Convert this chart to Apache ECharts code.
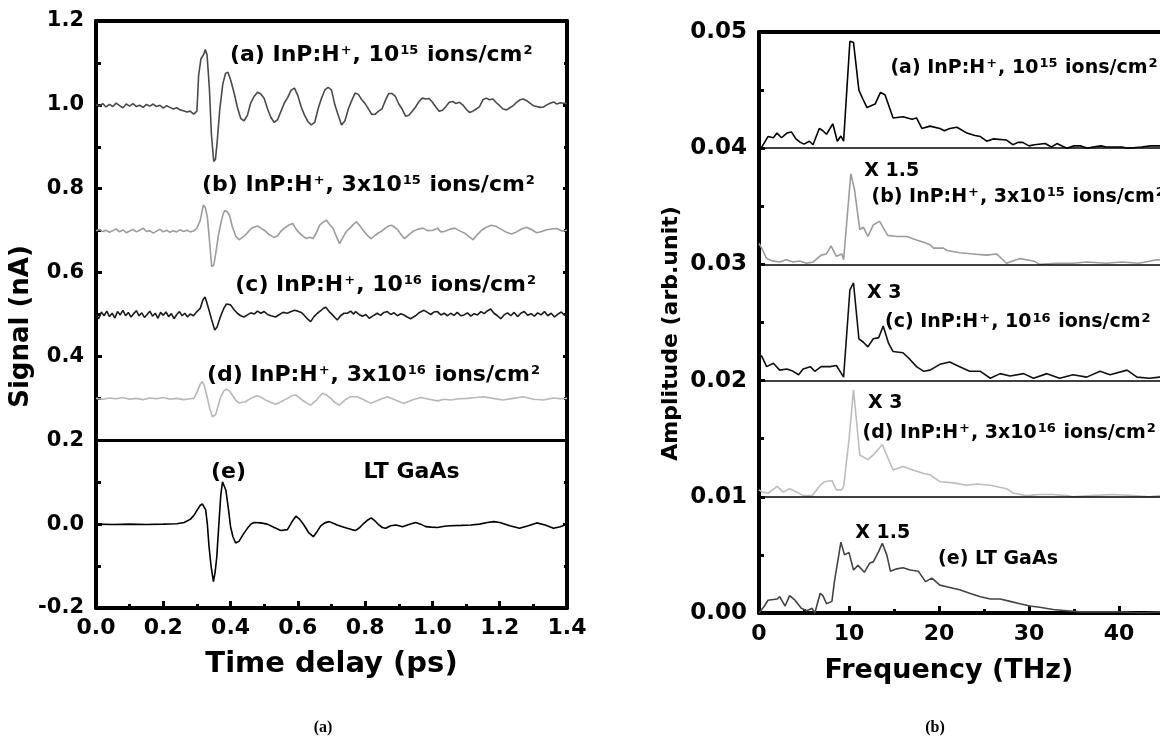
<!DOCTYPE html>
<html><head><meta charset="utf-8">
<script src="https://cdn.jsdelivr.net/npm/echarts@6/dist/echarts.min.js"></script>
<style>html,body{margin:0;padding:0;background:#fff}#c{width:1160px;height:740px}</style>
</head><body><div id="c"></div>
<script>
// ---------- tick labels ----------
const leftXTickLabels = ['0.0','0.2','0.4','0.6','0.8','1.0','1.2','1.4'];
const leftYTickLabels = ['-0.2','0.0','0.2','0.4','0.6','0.8','1.0','1.2'];
const rightXTickLabels = ['0','10','20','30','40','50'];
const rightYTickLabels = ['0.00','0.01','0.02','0.03','0.04','0.05'];

// ---------- (a) time-domain signals [time ps, signal nA] ----------
const sigA = [[0,1.0],[0.01,0.997],[0.02,1.003],[0.03,0.995],[0.04,1.001],[0.05,0.996],[0.06,1.004],[0.07,0.998],[0.08,0.993],[0.09,1.002],[0.10,0.997],[0.11,1.003],[0.12,0.996],[0.13,0.999],[0.14,0.994],[0.15,1.001],[0.16,0.997],[0.17,1.002],[0.18,0.996],[0.19,0.999],[0.20,0.992],[0.21,0.998],[0.22,0.994],[0.23,0.99],[0.24,0.993],[0.25,0.988],[0.26,0.986],[0.27,0.983],[0.28,0.985],[0.29,0.978],[0.30,0.985],[0.305,1.07],[0.312,1.11],[0.32,1.12],[0.325,1.132],[0.33,1.12],[0.337,1.04],[0.343,0.93],[0.35,0.865],[0.355,0.87],[0.36,0.91],[0.368,0.99],[0.377,1.05],[0.385,1.075],[0.392,1.078],[0.40,1.06],[0.41,1.03],[0.42,0.995],[0.43,0.968],[0.44,0.962],[0.45,0.975],[0.46,1.005],[0.47,1.02],[0.48,1.03],[0.49,1.026],[0.50,1.015],[0.51,0.99],[0.52,0.97],[0.53,0.958],[0.54,0.965],[0.55,0.985],[0.56,1.005],[0.57,1.018],[0.58,1.035],[0.59,1.04],[0.60,1.022],[0.61,0.995],[0.62,0.975],[0.63,0.96],[0.64,0.952],[0.65,0.958],[0.66,0.99],[0.67,1.015],[0.68,1.035],[0.69,1.042],[0.70,1.035],[0.71,1.0],[0.72,0.975],[0.73,0.952],[0.74,0.962],[0.75,0.99],[0.76,1.01],[0.77,1.028],[0.78,1.025],[0.79,1.012],[0.80,1.003],[0.81,0.99],[0.82,0.977],[0.83,0.978],[0.84,0.985],[0.85,0.99],[0.86,1.01],[0.87,1.027],[0.88,1.027],[0.89,1.02],[0.90,1.002],[0.91,0.99],[0.92,0.973],[0.93,0.975],[0.94,0.985],[0.95,0.995],[0.96,1.008],[0.97,1.016],[0.98,1.014],[0.99,1.015],[1.00,1.006],[1.01,0.995],[1.02,0.985],[1.03,0.987],[1.04,0.996],[1.05,1.006],[1.06,1.008],[1.07,1.003],[1.08,1.006],[1.09,1.0],[1.10,0.99],[1.11,0.982],[1.12,0.985],[1.13,0.99],[1.14,0.996],[1.15,1.012],[1.16,1.016],[1.17,1.012],[1.18,1.014],[1.19,1.005],[1.20,0.998],[1.21,0.99],[1.22,0.988],[1.23,0.993],[1.24,0.998],[1.25,1.006],[1.26,1.012],[1.27,1.014],[1.28,1.01],[1.29,1.004],[1.30,0.998],[1.31,0.996],[1.32,0.994],[1.33,0.995],[1.34,1.0],[1.35,1.004],[1.36,1.007],[1.37,1.002],[1.38,1.005],[1.39,1.004],[1.40,1.003]];
const sigB = [[0,0.70],[0.01,0.703],[0.02,0.698],[0.03,0.701],[0.04,0.696],[0.05,0.7],[0.06,0.704],[0.07,0.697],[0.08,0.702],[0.09,0.695],[0.10,0.699],[0.11,0.703],[0.12,0.697],[0.13,0.701],[0.14,0.706],[0.15,0.698],[0.16,0.7],[0.17,0.694],[0.18,0.699],[0.19,0.703],[0.20,0.697],[0.21,0.701],[0.22,0.696],[0.23,0.7],[0.24,0.697],[0.25,0.702],[0.26,0.698],[0.27,0.701],[0.28,0.697],[0.29,0.699],[0.30,0.706],[0.31,0.725],[0.319,0.761],[0.325,0.755],[0.331,0.733],[0.338,0.67],[0.344,0.614],[0.35,0.618],[0.356,0.646],[0.364,0.69],[0.371,0.717],[0.378,0.74],[0.383,0.748],[0.39,0.745],[0.397,0.736],[0.405,0.71],[0.415,0.688],[0.425,0.678],[0.435,0.684],[0.445,0.69],[0.455,0.70],[0.465,0.707],[0.48,0.711],[0.49,0.706],[0.505,0.698],[0.515,0.69],[0.53,0.684],[0.54,0.688],[0.55,0.699],[0.56,0.706],[0.575,0.714],[0.585,0.717],[0.595,0.703],[0.61,0.69],[0.625,0.681],[0.635,0.684],[0.645,0.681],[0.655,0.695],[0.665,0.713],[0.675,0.72],[0.685,0.725],[0.695,0.714],[0.705,0.705],[0.715,0.685],[0.724,0.669],[0.734,0.684],[0.744,0.698],[0.755,0.706],[0.765,0.715],[0.774,0.721],[0.784,0.712],[0.794,0.701],[0.805,0.69],[0.818,0.681],[0.83,0.689],[0.84,0.695],[0.848,0.698],[0.86,0.706],[0.87,0.711],[0.878,0.713],[0.888,0.708],[0.898,0.701],[0.907,0.69],[0.917,0.681],[0.93,0.69],[0.942,0.698],[0.955,0.703],[0.972,0.706],[0.985,0.7],[1.002,0.701],[1.015,0.706],[1.025,0.697],[1.036,0.698],[1.05,0.703],[1.066,0.706],[1.08,0.7],[1.096,0.694],[1.11,0.685],[1.121,0.678],[1.133,0.69],[1.146,0.701],[1.16,0.708],[1.175,0.713],[1.19,0.71],[1.205,0.703],[1.22,0.696],[1.235,0.692],[1.25,0.697],[1.265,0.704],[1.28,0.708],[1.295,0.702],[1.31,0.695],[1.325,0.698],[1.34,0.702],[1.355,0.704],[1.37,0.705],[1.385,0.699],[1.40,0.701]];
const sigC = [[0,0.5],[0.008,0.49],[0.016,0.506],[0.024,0.497],[0.032,0.508],[0.04,0.495],[0.048,0.503],[0.056,0.492],[0.064,0.507],[0.072,0.499],[0.08,0.51],[0.088,0.497],[0.096,0.505],[0.104,0.494],[0.112,0.502],[0.12,0.509],[0.128,0.497],[0.136,0.504],[0.144,0.493],[0.152,0.5],[0.16,0.508],[0.168,0.496],[0.176,0.503],[0.184,0.491],[0.192,0.505],[0.2,0.498],[0.208,0.506],[0.216,0.495],[0.224,0.502],[0.232,0.49],[0.24,0.5],[0.248,0.507],[0.256,0.497],[0.264,0.503],[0.272,0.494],[0.28,0.501],[0.29,0.497],[0.3,0.507],[0.31,0.515],[0.318,0.535],[0.324,0.542],[0.33,0.527],[0.336,0.51],[0.344,0.487],[0.353,0.463],[0.36,0.47],[0.37,0.495],[0.38,0.515],[0.388,0.525],[0.4,0.523],[0.41,0.512],[0.42,0.503],[0.43,0.497],[0.44,0.494],[0.45,0.499],[0.46,0.504],[0.47,0.501],[0.48,0.508],[0.49,0.503],[0.5,0.507],[0.51,0.5],[0.52,0.497],[0.534,0.494],[0.545,0.5],[0.556,0.505],[0.569,0.503],[0.58,0.507],[0.59,0.51],[0.6,0.508],[0.61,0.505],[0.618,0.499],[0.628,0.49],[0.638,0.483],[0.648,0.495],[0.658,0.503],[0.668,0.509],[0.676,0.515],[0.683,0.517],[0.693,0.507],[0.703,0.499],[0.71,0.493],[0.717,0.487],[0.727,0.497],[0.737,0.503],[0.747,0.503],[0.757,0.508],[0.766,0.501],[0.772,0.507],[0.782,0.5],[0.792,0.496],[0.802,0.5],[0.812,0.491],[0.822,0.496],[0.83,0.5],[0.836,0.503],[0.846,0.498],[0.856,0.505],[0.866,0.507],[0.876,0.5],[0.886,0.504],[0.896,0.497],[0.906,0.502],[0.915,0.499],[0.925,0.494],[0.935,0.49],[0.94,0.491],[0.95,0.497],[0.96,0.504],[0.975,0.51],[0.985,0.505],[0.995,0.5],[1.005,0.506],[1.015,0.507],[1.025,0.499],[1.035,0.503],[1.045,0.497],[1.054,0.503],[1.064,0.498],[1.074,0.505],[1.084,0.497],[1.094,0.499],[1.104,0.504],[1.114,0.496],[1.124,0.502],[1.134,0.499],[1.144,0.507],[1.154,0.502],[1.164,0.509],[1.173,0.513],[1.183,0.503],[1.193,0.497],[1.203,0.49],[1.213,0.499],[1.223,0.504],[1.233,0.497],[1.243,0.505],[1.253,0.495],[1.263,0.503],[1.273,0.507],[1.283,0.498],[1.293,0.502],[1.303,0.496],[1.313,0.504],[1.323,0.499],[1.333,0.507],[1.343,0.497],[1.353,0.503],[1.363,0.494],[1.373,0.501],[1.383,0.506],[1.393,0.498],[1.40,0.502]];
const sigD = [[0,0.3],[0.02,0.298],[0.04,0.301],[0.06,0.299],[0.08,0.302],[0.1,0.298],[0.12,0.3],[0.14,0.297],[0.16,0.301],[0.18,0.299],[0.2,0.302],[0.22,0.298],[0.24,0.3],[0.26,0.297],[0.28,0.299],[0.291,0.3],[0.301,0.316],[0.31,0.334],[0.316,0.34],[0.322,0.33],[0.329,0.308],[0.338,0.276],[0.346,0.256],[0.356,0.262],[0.364,0.285],[0.371,0.304],[0.38,0.318],[0.388,0.322],[0.396,0.318],[0.405,0.308],[0.415,0.296],[0.425,0.289],[0.444,0.292],[0.46,0.3],[0.479,0.306],[0.49,0.303],[0.504,0.296],[0.52,0.29],[0.534,0.286],[0.55,0.292],[0.569,0.3],[0.582,0.306],[0.594,0.308],[0.613,0.296],[0.628,0.288],[0.638,0.284],[0.655,0.296],[0.673,0.312],[0.685,0.308],[0.698,0.3],[0.71,0.29],[0.723,0.284],[0.74,0.296],[0.757,0.304],[0.777,0.304],[0.797,0.296],[0.817,0.288],[0.84,0.296],[0.866,0.304],[0.89,0.296],[0.915,0.288],[0.94,0.296],[0.965,0.302],[0.99,0.298],[1.015,0.294],[1.035,0.298],[1.054,0.296],[1.08,0.299],[1.104,0.3],[1.13,0.302],[1.153,0.304],[1.18,0.3],[1.21,0.296],[1.24,0.3],[1.27,0.304],[1.3,0.298],[1.33,0.296],[1.36,0.301],[1.38,0.299],[1.4,0.3]];
const sigE = [[0,0],[0.05,-0.001],[0.1,0.0],[0.15,-0.001],[0.2,0.0],[0.24,0.001],[0.262,0.004],[0.281,0.012],[0.292,0.022],[0.301,0.034],[0.31,0.045],[0.316,0.048],[0.321,0.044],[0.326,0.034],[0.331,0.0],[0.336,-0.054],[0.342,-0.1],[0.349,-0.137],[0.354,-0.115],[0.359,-0.078],[0.366,0.01],[0.371,0.07],[0.376,0.101],[0.381,0.098],[0.386,0.081],[0.393,0.04],[0.4,-0.006],[0.407,-0.03],[0.415,-0.045],[0.425,-0.041],[0.437,-0.025],[0.45,-0.01],[0.46,0.0],[0.47,0.004],[0.49,0.003],[0.509,0.0],[0.53,-0.008],[0.549,-0.015],[0.569,-0.013],[0.582,0.005],[0.594,0.019],[0.605,0.012],[0.618,-0.002],[0.632,-0.02],[0.646,-0.03],[0.657,-0.018],[0.668,-0.004],[0.68,0.003],[0.693,0.006],[0.705,0.002],[0.717,-0.002],[0.732,-0.006],[0.747,-0.01],[0.76,-0.013],[0.772,-0.015],[0.784,-0.008],[0.796,0.002],[0.808,0.01],[0.818,0.015],[0.83,0.007],[0.841,-0.002],[0.851,-0.008],[0.861,-0.01],[0.876,-0.004],[0.891,-0.002],[0.901,-0.004],[0.911,-0.006],[0.93,-0.001],[0.95,0.004],[0.965,0.0],[0.98,-0.006],[0.997,-0.007],[1.015,-0.008],[1.035,-0.005],[1.054,-0.004],[1.085,-0.003],[1.114,-0.002],[1.14,0.0],[1.163,0.004],[1.183,0.006],[1.2,0.004],[1.23,-0.004],[1.259,-0.01],[1.285,-0.004],[1.31,0.003],[1.335,-0.002],[1.36,-0.01],[1.38,-0.006],[1.4,0.0]];

// ---------- (b) spectra [frequency THz, amplitude arb.unit] ----------
const specA = [[0,0.04],[0.3,0.0401],[1.0,0.041],[1.6,0.0409],[2.0,0.0413],[2.5,0.0409],[3.1,0.0413],[3.6,0.0414],[4.1,0.0408],[4.6,0.0405],[5.0,0.04035],[5.6,0.0406],[6.0,0.0403],[6.7,0.0417],[7.1,0.0415],[7.5,0.0412],[8.2,0.0421],[8.7,0.0406],[9.1,0.04105],[9.4,0.0406],[10.1,0.0492],[10.5,0.0491],[11.1,0.045],[11.5,0.0443],[12.0,0.0435],[12.9,0.0438],[13.5,0.0448],[14.0,0.0446],[14.9,0.0426],[16.0,0.0427],[17.0,0.0425],[17.5,0.0426],[18.1,0.0417],[19.0,0.0419],[20.1,0.0417],[20.6,0.0415],[21.2,0.0417],[22.0,0.0418],[23.1,0.0413],[24.0,0.0411],[24.6,0.041],[25.3,0.0406],[26.0,0.0408],[27.5,0.0407],[28.2,0.0403],[28.8,0.0405],[29.3,0.0405],[30.0,0.0402],[30.6,0.0403],[31.8,0.0404],[32.5,0.0401],[33.1,0.0404],[34.2,0.04],[35.0,0.0402],[35.7,0.0402],[36.5,0.04],[37.1,0.0401],[38.0,0.0402],[38.6,0.0401],[40.3,0.0401],[41.0,0.04],[42.5,0.0401],[43.5,0.0402],[44.5,0.0402],[46,0.0401]];
const specB = [[0,0.0318],[0.3,0.0314],[0.85,0.0305],[1.5,0.0303],[2.3,0.0302],[3.0,0.0304],[3.8,0.0302],[4.5,0.0303],[5.3,0.0301],[6.0,0.0302],[6.9,0.0308],[7.5,0.0309],[8.0,0.0316],[8.6,0.0307],[9.2,0.0309],[9.4,0.0304],[10.2,0.0378],[10.6,0.0365],[11.2,0.033],[11.6,0.0332],[12.1,0.0324],[12.7,0.0334],[13.4,0.0337],[14.3,0.0325],[15.3,0.0324],[16.4,0.0324],[17.5,0.0321],[18.3,0.0319],[19.0,0.0317],[19.4,0.0314],[20.5,0.0314],[20.9,0.0312],[22.3,0.031],[23.8,0.0309],[25.3,0.0308],[26.4,0.0309],[27.5,0.0301],[29.0,0.0305],[30.5,0.0303],[31.2,0.03],[33.1,0.0301],[34.9,0.0301],[36.4,0.0302],[38.6,0.0301],[40.3,0.0302],[42.2,0.0301],[44.2,0.0304],[46,0.0303]];
const specC = [[0,0.0222],[0.3,0.0221],[0.85,0.0212],[1.6,0.0215],[2.3,0.0209],[3.1,0.021],[3.8,0.0208],[4.4,0.0205],[4.9,0.021],[5.7,0.0212],[6.2,0.0208],[6.9,0.0212],[7.9,0.0212],[8.6,0.0213],[9.4,0.0203],[10.1,0.0278],[10.5,0.0284],[11.1,0.0236],[11.6,0.0233],[12.1,0.0229],[12.7,0.0236],[13.3,0.0237],[13.8,0.0247],[14.4,0.0232],[14.9,0.0225],[16.0,0.0224],[16.8,0.0218],[17.5,0.0212],[18.3,0.0208],[19.0,0.0209],[20.1,0.0214],[21.2,0.0216],[22.3,0.0212],[23.4,0.0208],[24.6,0.0208],[25.7,0.0202],[26.8,0.0206],[27.9,0.0204],[29.4,0.0206],[30.5,0.0202],[32.0,0.0206],[33.4,0.0202],[34.9,0.0205],[36.4,0.0203],[37.9,0.0208],[39.0,0.0205],[40.9,0.0209],[42.0,0.0203],[43.4,0.0202],[44.5,0.0203],[46,0.0204]];
const specD = [[0,0.0106],[0.3,0.01044],[1.0,0.0103],[2.0,0.0109],[2.7,0.0104],[3.4,0.0107],[4.2,0.0104],[4.9,0.0101],[5.9,0.0101],[6.8,0.011],[7.3,0.0113],[8.1,0.0114],[8.6,0.0106],[9.2,0.0106],[9.4,0.0109],[10.0,0.0149],[10.5,0.0192],[11.2,0.0136],[12.1,0.0132],[12.7,0.0136],[13.7,0.0145],[14.4,0.0132],[14.9,0.0123],[16.0,0.0126],[17.1,0.0123],[18.3,0.012],[19.0,0.0119],[20.1,0.0113],[21.6,0.0112],[23.1,0.011],[24.2,0.0111],[25.7,0.011],[27.5,0.0107],[28.3,0.0103],[29.7,0.0101],[31.2,0.0102],[32.7,0.0102],[34.2,0.0101],[34.9,0.01],[36.8,0.0101],[39.4,0.0102],[41.6,0.0101],[43.4,0.01],[44.5,0.0101],[46,0.0101]];
const specE = [[0,0.0],[0.6,0.0006],[1.0,0.0011],[2.0,0.0012],[2.3,0.0014],[2.9,0.0006],[3.4,0.0015],[4.0,0.0011],[4.7,0.0004],[5.3,0.0002],[5.9,0.0004],[6.2,0.0],[6.8,0.0017],[7.1,0.0015],[7.5,0.0008],[8.1,0.001],[8.4,0.0028],[9.1,0.0061],[9.5,0.005],[10.0,0.0052],[10.5,0.0037],[11.0,0.0041],[11.7,0.0035],[12.3,0.0043],[12.7,0.0044],[13.3,0.0053],[13.7,0.006],[14.2,0.005],[14.6,0.0036],[15.3,0.0038],[16.0,0.0039],[16.8,0.0037],[17.7,0.0036],[18.5,0.0027],[19.2,0.003],[20.1,0.0024],[21.2,0.0022],[22.3,0.002],[23.4,0.0017],[24.6,0.0014],[25.7,0.0012],[26.8,0.0012],[27.9,0.001],[29.0,0.0008],[30.1,0.0006],[31.2,0.0005],[32.7,0.0003],[34.2,0.0002],[35.7,0.0001],[37.9,0.0001],[40.2,0.0001],[42.4,0.0],[44.5,0.0001],[46,0.0]];

// separators (baselines of stacked traces)
const leftSeparators = [0.2];
const rightSeparators = [0.01, 0.02, 0.03, 0.04];

// annotation texts
const leftLabels = ['(a) InP:H{s|+}, 10{s|15} ions/cm{s|2}','(b) InP:H{s|+}, 3x10{s|15} ions/cm{s|2}','(c) InP:H{s|+}, 10{s|16} ions/cm{s|2}','(d) InP:H{s|+}, 3x10{s|16} ions/cm{s|2}','(e)','LT GaAs'];
const leftLabelAt = [[0.398,1.119],[0.315,0.809],[0.414,0.57],[0.33,0.356],[0.342,0.124],[0.795,0.124]];
const rightLabels = ['(a) InP:H{s|+}, 10{s|15} ions/cm{s|2}','X 1.5','(b) InP:H{s|+}, 3x10{s|15} ions/cm{s|2}','X 3','(c) InP:H{s|+}, 10{s|16} ions/cm{s|2}','X 3','(d) InP:H{s|+}, 3x10{s|16} ions/cm{s|2}','X 1.5','(e) LT GaAs'];
const rightLabelAt = [[14.6,0.0469],[11.7,0.038],[12.5,0.0358],[12.0,0.0275],[14.0,0.025],[12.1,0.0181],[11.5,0.0155],[10.7,0.0069],[19.9,0.0046]];

const FONT = '"DejaVu Sans", "Liberation Sans", Arial, sans-serif';
const chart = echarts.init(document.getElementById('c'), null, {renderer: 'canvas'});

function fmt(labels, min, step) { return v => labels[Math.round((v - min) / step)] ?? ''; }

const axisLineStyle = {onZero: false, lineStyle: {color: '#000', width: 4}};
const tickCfg = (len) => ({show: true, inside: true, length: len, lineStyle: {color: '#000', width: 3}});
const minorCfg = (len) => ({show: true, splitNumber: 2, length: len, lineStyle: {color: '#000', width: 3}});
const labelStyle = (size, margin) => ({color: '#000', fontFamily: FONT, fontWeight: 'bold', fontSize: size, margin: margin});

function lineSeries(name, data, color, xi, yi, width) {
  return {name, type: 'line', data, xAxisIndex: xi, yAxisIndex: yi, showSymbol: false, symbol: 'none',
    lineStyle: {color, width: width || 1.6}, itemStyle: {color}, z: 3, silent: true};
}

const option = {
  animation: false,
  backgroundColor: '#fff',
  grid: [
    {left: 96, right: 593, top: 21, bottom: 132, outerBoundsMode: 'none', containLabel: false},
    {left: 759, right: -49, top: 32, bottom: 127, outerBoundsMode: 'none', containLabel: false}
  ],
  xAxis: [
    {gridIndex: 0, type: 'value', min: 0, max: 1.4, interval: 0.2, position: 'bottom',
     axisLine: axisLineStyle, axisTick: tickCfg(7), minorTick: minorCfg(4), splitLine: {show: false}, minorSplitLine: {show: false},
     axisLabel: Object.assign(labelStyle(22, 9), {formatter: fmt(leftXTickLabels, 0, 0.2)}),
     name: 'Time delay (ps)', nameLocation: 'middle', nameGap: 42,
     nameTextStyle: {color: '#000', fontFamily: FONT, fontWeight: 'bold', fontSize: 29}},
    {gridIndex: 0, type: 'value', min: 0, max: 1.4, position: 'top', axisLine: axisLineStyle,
     axisTick: {show: false}, axisLabel: {show: false}, splitLine: {show: false}},
    {gridIndex: 1, type: 'value', min: 0, max: 50, interval: 10, position: 'bottom',
     axisLine: axisLineStyle, axisTick: tickCfg(7), minorTick: minorCfg(4), splitLine: {show: false}, minorSplitLine: {show: false},
     axisLabel: Object.assign(labelStyle(22, 10), {formatter: fmt(rightXTickLabels, 0, 10)}),
     name: 'Frequency (THz)', nameLocation: 'middle', nameGap: 44,
     nameTextStyle: {color: '#000', fontFamily: FONT, fontWeight: 'bold', fontSize: 27, padding: [0, 70, 0, 0]}},
    {gridIndex: 1, type: 'value', min: 0, max: 50, position: 'top', axisLine: axisLineStyle,
     axisTick: {show: false}, axisLabel: {show: false}, splitLine: {show: false}}
  ],
  yAxis: [
    {gridIndex: 0, type: 'value', min: -0.2, max: 1.2, interval: 0.2, position: 'left',
     axisLine: axisLineStyle, axisTick: tickCfg(6), minorTick: minorCfg(5), splitLine: {show: false}, minorSplitLine: {show: false},
     axisLabel: Object.assign(labelStyle(21, 12), {formatter: fmt(leftYTickLabels, -0.2, 0.2)}),
     name: 'Signal (nA)', nameLocation: 'middle', nameGap: 50,
     nameTextStyle: {color: '#000', fontFamily: FONT, fontWeight: 'bold', fontSize: 26, padding: [0, 24, 0, 0]}},
    {gridIndex: 0, type: 'value', min: -0.2, max: 1.2, interval: 0.2, position: 'right',
     axisLine: axisLineStyle, axisTick: tickCfg(4), minorTick: minorCfg(3), splitLine: {show: false},
     axisLabel: {show: false}},
    {gridIndex: 1, type: 'value', min: 0, max: 0.05, interval: 0.01, position: 'left',
     axisLine: axisLineStyle, axisTick: tickCfg(6), minorTick: minorCfg(5), splitLine: {show: false}, minorSplitLine: {show: false},
     axisLabel: Object.assign(labelStyle(23, 12), {formatter: fmt(rightYTickLabels, 0, 0.01)}),
     name: 'Amplitude (arb.unit)', nameLocation: 'middle', nameGap: 77,
     nameTextStyle: {color: '#000', fontFamily: FONT, fontWeight: 'bold', fontSize: 22, padding: [0, 22, 0, 0]}},
    {gridIndex: 1, type: 'value', min: 0, max: 0.05, position: 'right', axisLine: axisLineStyle,
     axisTick: {show: false}, axisLabel: {show: false}, splitLine: {show: false}}
  ],
  series: [
    Object.assign(lineSeries('(a) 1e15', sigA, '#4a4a4a', 0, 0), {
      markLine: {silent: true, symbol: 'none', label: {show: false}, animation: false,
        lineStyle: {color: '#000', width: 3, type: 'solid'},
        data: leftSeparators.map(v => ({yAxis: v}))}}),
    lineSeries('(b) 3e15', sigB, '#9c9c9c', 0, 0),
    lineSeries('(c) 1e16', sigC, '#1c1c1c', 0, 0),
    lineSeries('(d) 3e16', sigD, '#b8b8b8', 0, 0),
    lineSeries('(e) LT GaAs', sigE, '#000000', 0, 0),
    Object.assign(lineSeries('(a) 1e15 FFT', specA, '#000000', 2, 2), {
      markLine: {silent: true, symbol: 'none', label: {show: false}, animation: false,
        lineStyle: {color: '#000', width: 1.5, type: 'solid'},
        data: rightSeparators.map(v => ({yAxis: v}))}}),
    lineSeries('(b) 3e15 FFT', specB, '#9c9c9c', 2, 2),
    lineSeries('(c) 1e16 FFT', specC, '#111111', 2, 2),
    lineSeries('(d) 3e16 FFT', specD, '#bdbdbd', 2, 2),
    lineSeries('(e) LT GaAs FFT', specE, '#444444', 2, 2)
  ]
};
chart.setOption(option);

const rich = {s: {fontFamily: FONT, fontWeight: 'bold', fontSize: 13, verticalAlign: 'top', fill: '#000', padding: [0, 1, 8, 1]}};
function annot(text, px, size) {
  return {type: 'text', x: px[0], y: px[1], z: 20, silent: true,
    style: {text, rich, fill: '#000', font: 'bold ' + size + 'px ' + FONT, align: 'left', verticalAlign: 'middle'}};
}
const graphics = [];
leftLabels.forEach((t, i) => graphics.push(annot(t, chart.convertToPixel({gridIndex: 0}, leftLabelAt[i]), 22)));
rightLabels.forEach((t, i) => graphics.push(annot(t, chart.convertToPixel({gridIndex: 1}, rightLabelAt[i]), 19)));
graphics.push({type: 'text', x: 323, y: 728, silent: true, style: {text: '(a)', fill: '#000', font: 'bold 16px "Liberation Serif", "Times New Roman", serif', align: 'center', verticalAlign: 'middle'}});
graphics.push({type: 'text', x: 935, y: 728, silent: true, style: {text: '(b)', fill: '#000', font: 'bold 16px "Liberation Serif", "Times New Roman", serif', align: 'center', verticalAlign: 'middle'}});
chart.setOption({graphic: graphics});
</script>
</body></html>
